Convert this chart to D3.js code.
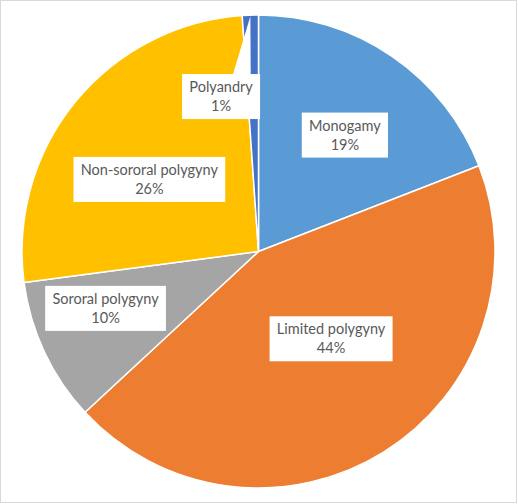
<!DOCTYPE html>
<html>
<head>
<meta charset="utf-8">
<script src="https://cdn.jsdelivr.net/npm/d3@7"></script>
<style>
  body { margin: 0; background: #fff; }
  svg { display: block; }
</style>
</head>
<body>
<script>
// data
var categories = ["Monogamy", "Limited polygyny", "Sororal polygyny", "Non-sororal polygyny", "Polyandry"];
var shares = [19.1, 44.0, 9.8, 26.0, 1.1];
var colors = ["#5B9BD5", "#ED7D31", "#A5A5A5", "#FFC000", "#4472C4"];

// where excel put the labels: fraction of radius, degrees off the slice middle
var labelRadius = [0.613, 0.48, 0.69, 0.553, 0.674];
var labelTurn = [2.2, -7.7, 4.8, -5.8, -11.6];

var width = 518, height = 504;
var cx = 258.5, cy = 251.5, r = 236.5;

var svg = d3.select("body")
  .append("svg")
    .attr("width", width)
    .attr("height", height);

svg.append("rect")
  .attr("x", 0.5).attr("y", 0.5)
  .attr("width", 516).attr("height", 502)
  .attr("fill", "#fff")
  .attr("stroke", "#d9d9d9");

var g = svg.append("g")
  .attr("transform", "translate(" + cx + "," + cy + ")");

var data = categories.map(function(c, i) { return {name: c, value: shares[i], i: i}; });
var total = d3.sum(shares);

var pie = d3.pie().sort(null).value(function(d) { return d.value; });
var arc = d3.arc().innerRadius(0).outerRadius(r);
var arcs = pie(data);

g.selectAll("path.slice")
  .data(arcs)
  .enter().append("path")
    .attr("class", "slice")
    .attr("d", arc)
    .attr("fill", function(d) { return colors[d.data.i]; })
    .attr("stroke", "#fff")
    .attr("stroke-width", 1.5)
    .attr("stroke-linejoin", "round");

var fmt = function(v) { return Math.round(v / total * 100) + "%"; };

var labels = g.selectAll("g.label")
  .data(arcs)
  .enter().append("g")
    .attr("class", "label")
    .attr("transform", function(d) {
      var a = (d.startAngle + d.endAngle) / 2 + labelTurn[d.data.i] * Math.PI / 180;
      var rr = labelRadius[d.data.i] * r;
      return "translate(" + (rr * Math.sin(a)) + "," + (-rr * Math.cos(a)) + ")";
    });

var box = labels.append("rect").attr("fill", "#fff");

var txt = labels.append("text")
  .attr("text-anchor", "middle")
  .attr("font-family", "Lato, 'Open Sans', sans-serif")
  .attr("font-size", 14.5)
  .attr("fill", "#595959");

txt.append("tspan").attr("x", 0).attr("y", -4.5).text(function(d) { return d.data.name; });
txt.append("tspan").attr("x", 0).attr("y", 14.5).text(function(d) { return fmt(d.data.value); });

var boxH = 45;
labels.each(function(d) {
  var el = d3.select(this);
  var w = el.select("text").node().getBBox().width + 14;
  el.select("rect")
    .attr("x", -w / 2).attr("y", -boxH / 2)
    .attr("width", w).attr("height", boxH);
  d.boxW = w;
});

// callout pointer for the tiny slice
var small = arcs.filter(function(d) { return d.data.value / total < 0.03; });
g.selectAll("path.pointer")
  .data(small)
  .enter().insert("path", "g.label")
    .attr("class", "pointer")
    .attr("fill", "#fff")
    .attr("d", function(d) {
      var m = (d.startAngle + d.endAngle) / 2;
      var a = m + labelTurn[d.data.i] * Math.PI / 180;
      var rr = labelRadius[d.data.i] * r;
      var lx = rr * Math.sin(a), ly = -rr * Math.cos(a);
      var tx = (r - 1) * Math.sin(m), ty = -(r - 1) * Math.cos(m);
      var top = ly - boxH / 2 + 1;
      return "M" + tx + "," + ty +
        "L" + (lx + 0.38 * d.boxW) + "," + top +
        "L" + (lx + 0.15 * d.boxW) + "," + top + "Z";
    });
</script>
</body>
</html>
